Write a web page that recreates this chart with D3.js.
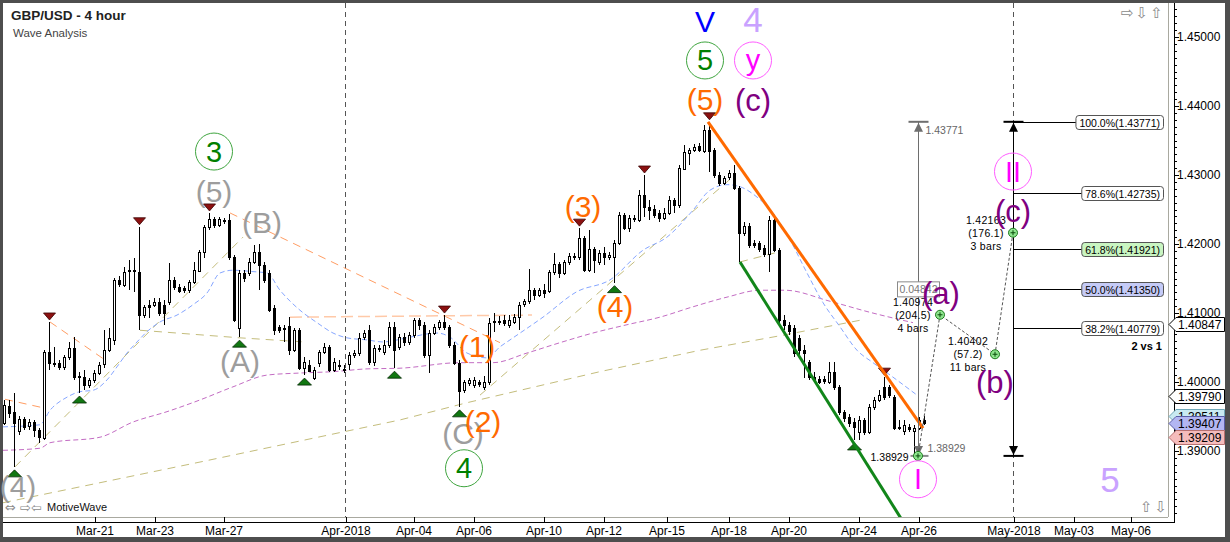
<!DOCTYPE html>
<meta charset='utf-8'>
<head>
<style>
  body { margin: 0; background: #fff; }
  svg { display: block; font-family: 'Liberation Sans', Arial, sans-serif; }
  .axis text { font: 12px 'Liberation Sans', Arial, sans-serif; fill: #000; }
  .axis line { stroke: #000; shape-rendering: crispEdges; }
  .tiny { font-size: 10.5px; }
  .icon { font-family: 'DejaVu Sans', sans-serif; font-size: 15px; fill: #8a8a8a; }
</style>
</head>
<body>
<script src='https://d3js.org/d3.v7.min.js'></script>
<script>

// GBP/USD 4h candles (one per 4 hours, weekends skipped)
var opens = [
  1.3941,1.3965,1.3957,1.3928,1.3946,1.3936,1.3942,1.3930,1.3920,1.4044,
  1.4028,1.4028,1.4022,1.4036,1.4049,1.4009,1.4007,1.3996,1.4003,1.4013,
  1.4025,1.4046,1.4061,1.4148,1.4141,1.4162,1.4162,1.4160,1.4097,1.4112,
  1.4112,1.4116,1.4112,1.4116,1.4148,1.4138,1.4136,1.4133,1.4145,1.4162,
  1.4189,1.4225,1.4236,1.4228,1.4235,1.4235,1.4181,1.4078,1.4158,1.4158,
  1.4174,1.4189,1.4170,1.4158,1.4107,1.4080,1.4078,1.4081,1.4046,1.4075,
  1.4020,1.4025,1.4006,1.4028,1.4044,1.4051,1.4017,1.4025,1.4019,1.4026,
  1.4039,1.4042,1.4065,1.4075,1.4029,1.4049,1.4044,1.4054,1.4080,1.4051,
  1.4065,1.4058,1.4068,1.4090,1.4083,1.4039,1.4071,1.4080,1.4087,1.4080,
  1.4054,1.4028,1.3988,1.3999,1.3996,1.4000,1.3993,1.4000,1.4088,1.4088,
  1.4090,1.4083,1.4087,1.4094,1.4112,1.4117,1.4133,1.4126,1.4133,1.4133,
  1.4160,1.4171,1.4158,1.4174,1.4183,1.4181,1.4209,1.4162,1.4193,1.4174,
  1.4187,1.4181,1.4181,1.4202,1.4242,1.4223,1.4238,1.4235,1.4271,1.4254,
  1.4251,1.4245,1.4238,1.4245,1.4264,1.4257,1.4310,1.4332,1.4336,1.4342,
  1.4334,1.4365,1.4336,1.4300,1.4289,1.4297,1.4303,1.4281,1.4216,1.4226,
  1.4202,1.4202,1.4194,1.4186,1.4235,1.4191,1.4090,1.4083,1.4078,1.4064,
  1.4046,1.4029,1.4007,1.4004,1.4004,1.4000,1.4015,1.3993,1.3957,1.3949,
  1.3942,1.3928,1.3945,1.3928,1.3964,1.3974,1.3993,1.3993,1.3978,1.3935,
  1.3930,1.3935,1.3928,1.3933,1.3945];
var highs = [
  1.3974,1.3974,1.3984,1.3951,1.3949,1.3946,1.3945,1.3933,1.4046,1.4087,
  1.4051,1.4032,1.4039,1.4058,1.4065,1.4015,1.4017,1.4006,1.4017,1.4029,
  1.4075,1.4078,1.4151,1.4154,1.4167,1.4177,1.4180,1.4225,1.4112,1.4119,
  1.4122,1.4122,1.4119,1.4173,1.4152,1.4142,1.4139,1.4148,1.4174,1.4191,
  1.4228,1.4245,1.4239,1.4239,1.4238,1.4244,1.4184,1.4162,1.4162,1.4180,
  1.4199,1.4200,1.4174,1.4162,1.4112,1.4083,1.4083,1.4094,1.4078,1.4078,
  1.4036,1.4032,1.4022,1.4046,1.4057,1.4054,1.4035,1.4032,1.4025,1.4044,
  1.4046,1.4071,1.4075,1.4083,1.4054,1.4054,1.4061,1.4087,1.4087,1.4070,
  1.4071,1.4073,1.4093,1.4093,1.4087,1.4075,1.4084,1.4090,1.4097,1.4083,
  1.4058,1.4032,1.4003,1.4006,1.4007,1.4003,1.4009,1.4093,1.4100,1.4096,
  1.4097,1.4097,1.4099,1.4116,1.4120,1.4164,1.4136,1.4136,1.4142,1.4162,
  1.4187,1.4174,1.4177,1.4187,1.4187,1.4223,1.4212,1.4220,1.4196,1.4191,
  1.4196,1.4189,1.4206,1.4247,1.4245,1.4242,1.4242,1.4278,1.4300,1.4264,
  1.4257,1.4249,1.4252,1.4270,1.4267,1.4315,1.4344,1.4339,1.4345,1.4347,
  1.4373,1.43771,1.4339,1.4305,1.4299,1.4307,1.4315,1.4284,1.4232,1.4231,
  1.4206,1.4204,1.4199,1.4241,1.4242,1.4194,1.4097,1.4087,1.4083,1.4068,
  1.4054,1.4032,1.4015,1.4009,1.4009,1.4029,1.4029,1.3996,1.3959,1.3954,
  1.3948,1.3951,1.3948,1.3968,1.3978,1.3988,1.4007,1.3996,1.3981,1.3945,
  1.3945,1.3939,1.3938,1.3949,1.3951];
var lows = [
  1.3938,1.3948,1.3877,1.3923,1.3930,1.3930,1.3920,1.3912,1.3916,1.4017,
  1.4022,1.4017,1.4017,1.4032,1.4003,1.3984,1.3988,1.3991,1.3999,1.4010,
  1.4020,1.4044,1.4054,1.4138,1.4138,1.4133,1.4131,1.4075,1.4093,1.4093,
  1.4109,1.4096,1.4083,1.4112,1.4133,1.4129,1.4129,1.4129,1.4142,1.4160,
  1.4180,1.4220,1.4223,1.4225,1.4229,1.4177,1.4087,1.4065,1.4145,1.4154,
  1.4171,1.4133,1.4144,1.4102,1.4068,1.4071,1.4058,1.4039,1.4044,1.4017,
  1.4010,1.4015,1.4003,1.4022,1.4041,1.4015,1.4015,1.4017,1.4013,1.4017,
  1.4035,1.4038,1.4061,1.4025,1.4023,1.4044,1.4039,1.4049,1.4020,1.4046,
  1.4052,1.4054,1.4064,1.4075,1.4035,1.4013,1.4068,1.4075,1.4075,1.4049,
  1.4025,1.3964,1.3984,1.3994,1.3991,1.3993,1.3988,1.3996,1.4073,1.4083,
  1.4081,1.4078,1.4084,1.4075,1.4109,1.4113,1.4119,1.4123,1.4122,1.4129,
  1.4155,1.4151,1.4155,1.4170,1.4177,1.4177,1.4160,1.4160,1.4158,1.4170,
  1.4170,1.4177,1.4144,1.4199,1.4220,1.4218,1.4232,1.4232,1.4239,1.4235,
  1.4238,1.4232,1.4235,1.4242,1.4245,1.4252,1.4307,1.4315,1.4334,1.4334,
  1.4332,1.4305,1.4296,1.4284,1.4286,1.4293,1.4278,1.4174,1.4212,1.4194,
  1.4194,1.4189,1.4181,1.4160,1.4189,1.4083,1.4075,1.4068,1.4036,1.4039,
  1.4006,1.4003,1.4000,1.3997,1.3997,1.3997,1.3988,1.3952,1.3942,1.3935,
  1.3916,1.3916,1.3923,1.3925,1.3959,1.3971,1.3974,1.3977,1.3930,1.3930,
  1.3923,1.3928,1.38929,1.3930,1.3938];
var closes = [
  1.3967,1.3955,1.3941,1.3946,1.3935,1.3942,1.3930,1.3920,1.4044,1.4028,
  1.4026,1.4022,1.4036,1.4049,1.4007,1.4007,1.3996,1.4003,1.4013,1.4025,
  1.4046,1.4064,1.4148,1.4142,1.4160,1.4160,1.4160,1.4097,1.4109,1.4109,
  1.4116,1.4100,1.4100,1.4148,1.4138,1.4132,1.4133,1.4145,1.4162,1.4189,
  1.4225,1.4236,1.4228,1.4236,1.4233,1.4181,1.4090,1.4158,1.4151,1.4174,
  1.4189,1.4170,1.4148,1.4104,1.4075,1.4075,1.4077,1.4046,1.4075,1.4020,
  1.4029,1.4017,1.4017,1.4044,1.4051,1.4017,1.4029,1.4023,1.4017,1.4039,
  1.4042,1.4064,1.4071,1.4029,1.4049,1.4048,1.4054,1.4080,1.4046,1.4065,
  1.4058,1.4068,1.4090,1.4083,1.4039,1.4071,1.4080,1.4087,1.4080,1.4054,
  1.4028,1.3988,1.4000,1.4003,1.4003,1.3997,1.4000,1.4086,1.4087,1.4087,
  1.4086,1.4090,1.4094,1.4112,1.4117,1.4133,1.4126,1.4133,1.4129,1.4160,
  1.4171,1.4158,1.4174,1.4183,1.4181,1.4209,1.4162,1.4193,1.4177,1.4187,
  1.4181,1.4184,1.4202,1.4242,1.4223,1.4238,1.4236,1.4271,1.4254,1.4249,
  1.4242,1.4238,1.4245,1.4264,1.4257,1.4310,1.4334,1.4336,1.4341,1.4336,
  1.4365,1.4334,1.4300,1.4289,1.4296,1.4303,1.4281,1.4216,1.4226,1.4199,
  1.4199,1.4194,1.4186,1.4235,1.4191,1.4090,1.4083,1.4075,1.4042,1.4046,
  1.4042,1.4007,1.4004,1.4000,1.4001,1.4015,1.3993,1.3957,1.3948,1.3941,
  1.3935,1.3945,1.3928,1.3964,1.3974,1.3981,1.3978,1.3981,1.3933,1.3933,
  1.3938,1.3932,1.3933,1.3945,1.39407];

// x axis: candle index of each date tick
var dateLabels = ['Mar-21','Mar-23','Mar-27','Apr-2018','Apr-04','Apr-06','Apr-10','Apr-12',
                  'Apr-15','Apr-18','Apr-20','Apr-24','Apr-26','May-2018','May-03','May-06'];
var dateTicks = [17.8, 29.8, 43.6, 68, 81.6, 93.6, 107.6, 119.6,
                 132.2, 144.6, 156.6, 170.6, 182.6, 201.6, 213.6, 225];
var priceTicks = [1.39, 1.40, 1.41, 1.42, 1.43, 1.44, 1.45];
var monthSeps = [68, 201.6];

// overlays, as [candle index, price]
var blueMA = [[-0.4,1.3935],[7,1.3938],[9,1.3959],[12.4,1.3978],[15,1.3986],[17.6,1.3988],[20.4,1.4003],
  [22.4,1.4022],[24.4,1.4042],[26.4,1.4058],[28.4,1.4073],[31,1.4087],[34.4,1.4097],[37.6,1.4112],
  [40.4,1.4129],[43,1.4158],[45.6,1.4162],[49.6,1.4160],[52.4,1.4158],[55,1.4133],[59,1.4104],
  [62.4,1.4086],[65.6,1.4071],[68.4,1.4064],[72.4,1.4061],[75.6,1.4058],[81,1.4065],[86.4,1.4071],
  [89,1.4065],[92.4,1.4042],[96.4,1.4035],[99,1.4051],[101,1.4061],[107.6,1.4094],[114.4,1.4131],
  [121,1.4148],[127.6,1.4191],[132.4,1.4210],[137.6,1.4249],[141,1.4278],[144.4,1.4286],[147,1.4283],
  [150.4,1.4268],[153.6,1.4245],[157,1.4206],[160.4,1.4158],[163.6,1.4115],[167,1.4080],[170.4,1.4046],
  [173.6,1.4028],[177.6,1.4007],[182.4,1.3981]];
var purpleMA = [[-0.4,1.3901],[7,1.3904],[9,1.3912],[19,1.3920],[25.6,1.3942],[32.4,1.3957],[39,1.3974],
  [45.6,1.3993],[52.4,1.4010],[59,1.4013],[65.6,1.4015],[72.4,1.4019],[79,1.4020],[91,1.4028],
  [97.6,1.4028],[104.4,1.4042],[111,1.4057],[117.6,1.4071],[124.4,1.4083],[131,1.4094],[137.6,1.4109],
  [144.4,1.4123],[151,1.4133],[156,1.4133],[165,1.4117],[173,1.4101],[181.6,1.4086]];
var khakiLong = [[-0.4,1.3825],[39,1.3884],[79,1.3945],[92.4,1.3970],[119,1.4015],[139,1.4046],
  [155,1.4067],[171.4,1.4090]];
var khakiGuides = [
  [[2,1.3877],[47.6,1.4210]],
  [[27,1.4075],[47,1.4064],[60,1.4058]],
  [[95,1.3981],[146,1.4300]],
  [[147,1.4174],[155,1.4189]]];
var orangeGuides = [
  [[0,1.3975],[8,1.3962]],
  [[9,1.4087],[20,1.4032]],
  [[45,1.4245],[99,1.4057]]];
var orangeLevel = [[57,1.4094],[105.4,1.4097]];
var orangeTrend = [[140.6,1.43771],[183.6,1.3933]];
var greenTrend = [[147,1.4174],[179.4,1.3800]];

var highMarks = [9, 27, 41, 88, 115, 128, 141, 176];
var lowMarks = [2, 15, 47, 60, 78, 91, 122, 170];

// wave labels: [text, candle index, price]
var grayLabels = [['(4)',2.6,1.3848],['(A)',47,1.4029],['(5)',41.8,1.4276],['(B)',51.4,1.4231],['(C)',91.6,1.3926]];
var orangeLabels = [['(1)',94.4,1.4051],['(2)',95.6,1.3943],['(3)',115.6,1.4254],['(4)',122,1.4109],['(5)',140,1.4409]];
var purpleLabels = [['(c)',149.6,1.4408],['(a)',187.2,1.4128],['(b)',198,1.4000],['(c)',201.6,1.4247]];
var greenCircled = [['3',41.8,1.4334],['4',91.8,1.3875],['5',140,1.4466]];
var pinkCircled = [['y',149.6,1.4466],['I',182.6,1.3859],['II',201.6,1.4305]];
var bigLabels = [['V',140,1.4522,'#0000ff'],['4',149.6,1.4526,'#c9a2ff'],['5',221,1.3858,'#c9a2ff']];

// projected path I-(a)-(b)-(c)
var projIdx = [182.6, 187, 198, 201.6];
var projVal = [1.38929, 1.40974, 1.40402, 1.42163];
var projInfo = [null, ['1.40974','(204.5)','4 bars'], ['1.40402','(57.2)','11 bars'], ['1.42163','(176.1)','3 bars']];

var measureIdx = 182.6, measureHi = 1.43771, measureLo = 1.38929;
var fibIdx = 201.6;
var fibPct = ['100.0%','78.6%','61.8%','50.0%','38.2%'];
var fibVal = [1.43771, 1.42735, 1.41921, 1.41350, 1.40779];
var fibFill = ['#ffffff','#ffffff','#c9f5c1','#c5cbf7','#ffffff'];

var tagVal = [1.40847, 1.39790, 1.39511, 1.39407, 1.39209];
var tagFill = ['#ffffff','#ffffff','#c9eaf2','#b3b6f2','#f5bcbc'];
var tagStroke = ['#000','#000','#70a8b8','#5a5ea8','#b87070'];

var W = 1230, H = 542;
var L = 3, R = 1168, T = 3, B = 517;

var x = d3.scaleLinear().domain([-0.4, 232.6]).range([L, R]);
var y = d3.scaleLinear().domain([1.45, 1.40]).range([37, 382]);

var svg = d3.select('body').append('svg').attr('width', W).attr('height', H);

svg.append('rect').attr('width', W).attr('height', H).attr('fill', '#4e4e4e');
svg.append('rect').attr('x', 3).attr('y', 3).attr('width', 1222).attr('height', 534).attr('fill', '#fff');

svg.append('defs').append('clipPath').attr('id', 'plot')
  .append('rect').attr('x', L).attr('y', T).attr('width', R - L).attr('height', B - T);

var plot = svg.append('g').attr('clip-path', 'url(#plot)');

var straight = d3.line().x(d => x(d[0])).y(d => y(d[1]));
var smooth = d3.line().x(d => x(d[0])).y(d => y(d[1])).curve(d3.curveMonotoneX);

function draw(pts, gen, color, dash, width) {
  plot.append('path').attr('d', gen(pts)).attr('fill', 'none')
    .attr('stroke', color).attr('stroke-width', width || 1)
    .attr('stroke-dasharray', dash);
}

// month separators
plot.selectAll('.sep').data(monthSeps).enter().append('line')
    .attr('x1', d => Math.round(x(d)) + 0.5).attr('x2', d => Math.round(x(d)) + 0.5)
    .attr('y1', T).attr('y2', B)
    .attr('stroke', '#555').attr('stroke-dasharray', '5,4');

// moving averages and wave guides
draw(khakiLong, straight, '#c4bd7c', '8,6');
khakiGuides.forEach(g => draw(g, straight, '#c4bd7c', '8,6'));
orangeGuides.forEach(g => draw(g, straight, '#ff9d63', '8,6'));
draw(orangeLevel, straight, '#ffc9a8', '12,5', 1.5);
draw(purpleMA, smooth, '#c36cc3', '5,3');
draw(blueMA, smooth, '#86a6ff', '5,3');

// candles
var candles = d3.range(opens.length).map(i =>
  ({i: i, o: opens[i], h: highs[i], l: lows[i], c: closes[i]}));

plot.append('g').selectAll('line').data(candles).enter().append('line')
    .attr('x1', d => Math.round(x(d.i)) - 0.5).attr('x2', d => Math.round(x(d.i)) - 0.5)
    .attr('y1', d => Math.round(y(d.h))).attr('y2', d => Math.round(y(d.l)))
    .attr('stroke', '#000');

plot.append('g').selectAll('rect').data(candles).enter().append('rect')
    .attr('x', d => Math.round(x(d.i)) - 1.5)
    .attr('y', d => Math.round(y(Math.max(d.o, d.c))) + 0.5)
    .attr('width', 2)
    .attr('height', d => Math.max(1, Math.round(y(Math.min(d.o, d.c)) - y(Math.max(d.o, d.c)))))
    .attr('fill', d => d.c >= d.o ? '#fff' : '#000')
    .attr('stroke', '#000')
    .style('shape-rendering', 'crispEdges');

// swing markers
plot.append('g').selectAll('path').data(highMarks).enter().append('path')
    .attr('d', i => {
      var cx = x(i), cy = y(highs[i]);
      return 'M' + (cx - 6.5) + ',' + (cy - 9) + 'L' + (cx + 5.5) + ',' + (cy - 9) + 'L' + (cx - 0.5) + ',' + (cy - 2) + 'Z';
    })
    .attr('fill', '#8c1111').attr('stroke', '#3a0000').attr('stroke-width', 0.8);

plot.append('g').selectAll('path').data(lowMarks).enter().append('path')
    .attr('d', i => {
      var cx = x(i), cy = y(lows[i]);
      return 'M' + (cx - 7.5) + ',' + (cy + 10) + 'L' + (cx + 6.5) + ',' + (cy + 10) + 'L' + (cx - 0.5) + ',' + (cy + 3) + 'Z';
    })
    .attr('fill', '#117711').attr('stroke', '#042a04').attr('stroke-width', 0.8);

// trend lines
draw(orangeTrend, straight, '#ff6a00', null, 3);
draw(greenTrend, straight, '#12861a', null, 3);

// price range measure (gray)
var mx = Math.round(x(measureIdx)) + 0.5;
var mTop = y(measureHi), mBot = y(measureLo);
plot.append('line').attr('x1', mx).attr('x2', mx).attr('y1', mTop).attr('y2', mBot - 6)
    .attr('stroke', '#6e6e6e');
plot.append('line').attr('x1', mx - 10).attr('x2', mx + 10).attr('y1', mTop).attr('y2', mTop)
    .attr('stroke', '#6e6e6e').attr('stroke-width', 2);
plot.append('path').attr('d', 'M' + (mx - 4.5) + ',' + (mTop + 10) + 'L' + (mx + 4.5) + ',' + (mTop + 10) + 'L' + mx + ',' + (mTop + 1) + 'Z')
    .attr('fill', '#6e6e6e');
plot.append('line').attr('x1', mx - 8).attr('x2', mx + 10).attr('y1', mBot).attr('y2', mBot)
    .attr('stroke', '#8a8a8a').attr('stroke-width', 2);
plot.append('path').attr('d', 'M' + (mx - 4.5) + ',' + (mBot - 10) + 'L' + (mx + 4.5) + ',' + (mBot - 10) + 'L' + mx + ',' + (mBot - 1) + 'Z')
    .attr('fill', '#6e6e6e');
svg.append('text').attr('class', 'tiny').attr('x', mx + 7).attr('y', mTop + 12)
    .attr('fill', '#666').text(measureHi.toFixed(5));
svg.append('text').attr('class', 'tiny').attr('x', mx + 9).attr('y', mBot - 4)
    .attr('fill', '#666').text(measureLo.toFixed(5));
svg.append('text').attr('class', 'tiny').attr('x', mx - 10).attr('y', mBot + 5)
    .attr('text-anchor', 'end').attr('fill', '#000').text(measureLo.toFixed(5));

var midY = y((measureHi + measureLo) / 2);
svg.append('rect').attr('x', mx - 21).attr('y', midY - 7).attr('width', 42).attr('height', 15)
    .attr('fill', '#fff').attr('stroke', '#8a8a8a');
svg.append('text').attr('class', 'tiny').attr('x', mx).attr('y', midY + 4.5)
    .attr('text-anchor', 'middle').attr('fill', '#777').text((measureHi - measureLo).toFixed(5));

// fibonacci tool
var fx = Math.round(x(fibIdx)) + 0.5;
var fTop = y(fibVal[0]), fBot = y(measureLo);
svg.append('line').attr('x1', fx).attr('x2', fx).attr('y1', fTop).attr('y2', fBot)
    .attr('stroke', '#000');
[fTop, fBot].forEach(v => {
  svg.append('line').attr('x1', fx - 10).attr('x2', fx + 10).attr('y1', v).attr('y2', v)
     .attr('stroke', '#000').attr('stroke-width', 2);
});
svg.append('path').attr('d', 'M' + (fx - 4.5) + ',' + (fTop + 10) + 'L' + (fx + 4.5) + ',' + (fTop + 10) + 'L' + fx + ',' + (fTop + 1) + 'Z');
svg.append('path').attr('d', 'M' + (fx - 4.5) + ',' + (fBot - 10) + 'L' + (fx + 4.5) + ',' + (fBot - 10) + 'L' + fx + ',' + (fBot - 1) + 'Z');

fibVal.forEach((v, k) => {
  var yy = Math.round(y(v)) + 0.5;
  var g = svg.append('g');
  var ln = g.append('line').attr('x1', fx).attr('y1', yy).attr('y2', yy).attr('stroke', '#000');
  var box = g.append('rect').attr('fill', fibFill[k]).attr('stroke', '#555').attr('rx', 3);
  var t = g.append('text').attr('class', 'tiny').attr('x', 1160).attr('y', yy + 4)
     .attr('text-anchor', 'end').text(fibPct[k] + '(' + v.toFixed(5) + ')');
  var w = t.node().getComputedTextLength();
  box.attr('x', 1160 - w - 3.5).attr('y', yy - 7).attr('width', w + 7).attr('height', 14);
  ln.attr('x2', 1160 - w - 3.5);
});
svg.append('text').attr('x', 1162).attr('y', 350).attr('text-anchor', 'end')
    .style('font-size', '11px').style('font-weight', 'bold').text('2 vs 1');

// projected waves
var proj = projIdx.map((d, k) => [d, projVal[k]]);
svg.append('path').attr('d', straight(proj)).attr('fill', 'none')
    .attr('stroke', '#555').attr('stroke-dasharray', '3,2');
proj.forEach((p, k) => {
  var cx = x(p[0]), cy = y(p[1]);
  if (projInfo[k]) {
    projInfo[k].forEach((s, j) => {
      svg.append('text').attr('class', 'tiny').attr('x', cx - 27).attr('y', cy - 9 + j * 13)
         .attr('text-anchor', 'middle').attr('fill', '#000').style('letter-spacing', '0.3px').text(s);
    });
  }
  svg.append('circle').attr('cx', cx).attr('cy', cy).attr('r', 4.5)
     .attr('fill', '#8ee68e').attr('stroke', '#1f7a1f');
  svg.append('path').attr('d', 'M' + (cx - 2.5) + ',' + cy + 'H' + (cx + 2.5) + 'M' + cx + ',' + (cy - 2.5) + 'V' + (cy + 2.5))
     .attr('stroke', '#0b4d0b').attr('stroke-width', 1);
});

// wave labels
function labels(list, color, size) {
  svg.append('g').selectAll('text').data(list).enter().append('text')
      .attr('x', d => x(d[1])).attr('y', d => y(d[2]))
      .attr('text-anchor', 'middle').attr('dominant-baseline', 'central')
      .style('font-size', size + 'px').attr('fill', d => d[3] || color).text(d => d[0]);
}
function circled(list, color, ring) {
  svg.append('g').selectAll('circle').data(list).enter().append('circle')
      .attr('cx', d => x(d[1])).attr('cy', d => y(d[2])).attr('r', 18.5)
      .attr('fill', 'none').attr('stroke', ring);
  labels(list, color, 29);
}
labels(grayLabels, '#9d9d9d', 30);
labels(orangeLabels, '#ff6a00', 30);
labels(purpleLabels, '#800080', 31);
circled(greenCircled, '#008000', '#3fa53f');
circled(pinkCircled, '#ff00ff', '#ff5cff');
labels(bigLabels.slice(0, 1), '#0000ff', 30);
labels(bigLabels.slice(1), '#c9a2ff', 35);

// plot frame
svg.append('line').attr('x1', R + 0.5).attr('x2', R + 0.5).attr('y1', T).attr('y2', B)
    .attr('stroke', '#a9a9a0');
svg.append('line').attr('x1', L).attr('x2', R).attr('y1', B + 0.5).attr('y2', B + 0.5)
    .attr('stroke', '#a9a9a0');

// bottom axis
var xAxis = d3.axisBottom(x).tickValues(dateTicks).tickFormat((d, i) => dateLabels[i])
    .tickSizeInner(-5).tickSizeOuter(0).tickPadding(4);
svg.append('g').attr('class', 'axis').attr('transform', 'translate(0.5,522)').call(xAxis)
    .call(g => g.select('.domain').remove());
svg.append('line').attr('x1', L).attr('x2', 1175).attr('y1', 522.5).attr('y2', 522.5).attr('stroke', '#000');

// right axis
var yMinor = d3.axisRight(y).tickValues(d3.range(1381, 1455).map(v => v / 1000))
    .tickSize(3).tickFormat('');
var yMajor = d3.axisRight(y).tickValues(priceTicks).tickSize(5).tickPadding(-2)
    .tickFormat(d3.format('.5f'));
svg.append('g').attr('class', 'axis').attr('transform', 'translate(1174,0)').call(yMinor)
    .call(g => g.select('.domain').remove());
svg.append('g').attr('class', 'axis').attr('transform', 'translate(1174,0)').call(yMajor)
    .call(g => g.select('.domain').remove());
svg.append('line').attr('x1', 1174.5).attr('x2', 1174.5).attr('y1', T).attr('y2', 523).attr('stroke', '#000');

// price tags on the axis
tagVal.forEach((v, k) => {
  var yy = Math.round(y(v)) + 0.5;
  svg.append('path')
     .attr('d', 'M1169,' + yy + 'L1176,' + (yy - 7) + 'H1224.5V' + (yy + 7) + 'H1176Z')
     .attr('fill', tagFill[k]).attr('stroke', tagStroke[k]);
  svg.append('text').attr('x', 1178).attr('y', yy + 4.5).style('font-size', '12px').text(v.toFixed(5));
});

// titles and small controls
svg.append('text').attr('x', 11).attr('y', 20).style('font-size', '13.5px')
    .style('font-weight', 'bold').attr('fill', '#222').text('GBP/USD - 4 hour');
svg.append('text').attr('x', 13).attr('y', 37).style('font-size', '11.5px')
    .attr('fill', '#444').text('Wave Analysis');
svg.append('text').attr('class', 'icon').attr('x', 5).attr('y', 512).style('font-size', '13px').text('\u21d4 \u21e8\u21e6');
svg.append('text').attr('x', 47).attr('y', 511).style('font-size', '11px').attr('fill', '#111').text('MotiveWave');
svg.append('text').attr('class', 'icon').attr('x', 1121).attr('y', 18).style('letter-spacing', '2px').text('\u21e8\u21e9\u21e7');
svg.append('text').attr('class', 'icon').attr('x', 1140).attr('y', 512).style('letter-spacing', '2px').text('\u21e7\u21e9');

</script>
</body>
